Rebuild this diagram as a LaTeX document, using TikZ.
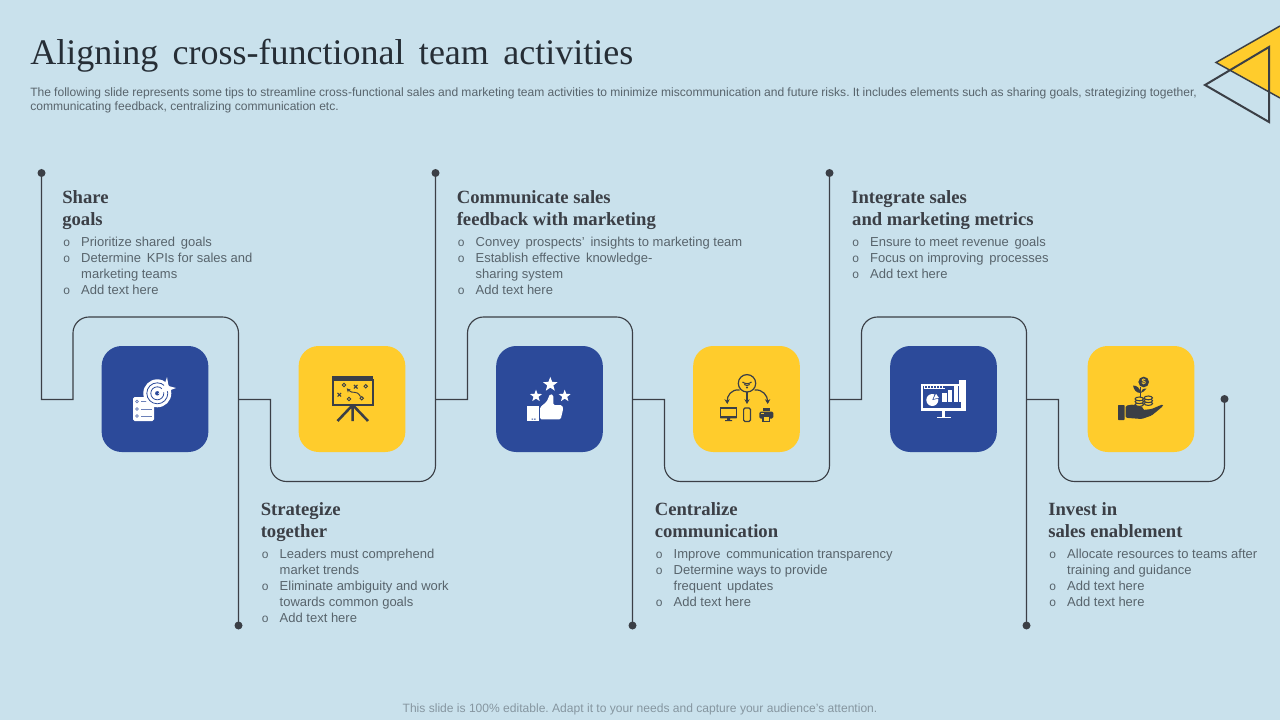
\documentclass[tikz,border=0pt]{standalone}
\usepackage{fontspec}
\setmainfont{Liberation Sans}
\newfontfamily\hfont{Liberation Serif}
\newfontfamily\mfont{Liberation Mono}
\usetikzlibrary{arrows.meta,shapes.geometric}
\definecolor{bg}{HTML}{C9E1EC}
\definecolor{tblue}{HTML}{2C4A9A}
\definecolor{tyel}{HTML}{FFCC2C}
\definecolor{ink}{HTML}{3B3F46}
\definecolor{titlec}{HTML}{262E36}
\definecolor{bodyc}{HTML}{58646C}
\definecolor{foot}{HTML}{8696A0}
\tikzset{
 x=0.75pt,y=-0.75pt,
 tile/.style={rounded corners=15pt,minimum width=80pt,minimum height=79.5pt,inner sep=0pt,draw=none},
 bluetile/.style={tile,fill=tblue},
 yeltile/.style={tile,fill=tyel},
 conn/.style={draw=ink,line width=0.85pt,rounded corners=12pt},
 dot/.style={circle,fill=ink,minimum size=6pt,inner sep=0pt},
 head/.style={anchor=north west,inner sep=0pt,align=left,text=ink,font=\hfont\bfseries\fontsize{14}{16.5}\selectfont},
 blist/.style={anchor=north west,inner sep=0pt,text=bodyc,font=\fontsize{9.75}{12}\selectfont},
 whitestar/.style={star,star points=5,star point ratio=2.4,fill=white,inner sep=0pt},
}
\newcommand{\blt}{\hspace{0.6pt}\mfont\fontsize{9}{9}\selectfont o}
\newenvironment{bl}{\begin{tabular}{@{}p{14.2pt}@{}l@{}}}{\end{tabular}}
\begin{document}
\frenchspacing
\begin{tikzpicture}
\useasboundingbox[fill=bg] (0,0) rectangle (1280,720);
% title
\node[anchor=west,inner sep=0pt,text=titlec,font=\hfont\fontsize{27}{30}\selectfont,name=title] at (30,56) {Aligning\hspace{0.15em} cross-functional\hspace{0.15em} team\hspace{0.15em} activities};
\node[anchor=north west,inner sep=0pt,align=left,text=bodyc,font=\fontsize{9.05}{10.6}\selectfont,name=sub] at (30,87.7) {\spaceskip=0.17em plus 0.2em minus 0.05em\makebox[875pt][s]{The following slide represents some tips to streamline cross-functional sales and marketing team activities to minimize miscommunication and future risks. It includes elements such as sharing goals, strategizing together,}\\communicating feedback, centralizing communication etc.};
% corner triangles
\fill[tyel] (1216,62.5) -- (1280,26) -- (1280,98) -- cycle;
\draw[ink,line width=1.1pt] (1280,26) -- (1216,62.5) -- (1280,98);
\draw[ink,line width=1.5pt,line join=miter] (1205,85) -- (1269,47) -- (1269,122) -- cycle;
% tiles
\node[bluetile] (t1) at (155,399) {};
\node[yeltile] (t2) at (352,399) {};
\node[bluetile] (t3) at (549.5,399) {};
\node[yeltile] (t4) at (746.5,399) {};
\node[bluetile] (t5) at (943.5,399) {};
\node[yeltile] (t6) at (1141,399) {};
% dots
\node[dot] (d1) at (41.5,173) {};
\node[dot] (d2) at (238.5,625.5) {};
\node[dot] (d3) at (435.5,173) {};
\node[dot] (d4) at (632.5,625.5) {};
\node[dot] (d5) at (829.5,173) {};
\node[dot] (d6) at (1026.5,625.5) {};
\node[dot] (d7) at (1224.5,399) {};
\coordinate (j1) at (238.5,399.5);
\coordinate (j2) at (435.5,399.5);
\coordinate (j3) at (632.5,399.5);
\coordinate (j4) at (829.5,399.5);
\coordinate (j5) at (1026.5,399.5);
% connectors
\draw[conn] (d1.center) [sharp corners] -- (41.5,399.5) -- (73,399.5) [rounded corners=12pt] -- (73,317) -- (238.5,317) -- (d2.center);
\draw[conn] (j1) [sharp corners] -- (270.5,399.5) [rounded corners=12pt] -- (270.5,481.5) -- (435.5,481.5) -- (d3.center);
\draw[conn] (j2) [sharp corners] -- (467.5,399.5) [rounded corners=12pt] -- (467.5,317) -- (632.5,317) -- (d4.center);
\draw[conn] (j3) [sharp corners] -- (664.5,399.5) [rounded corners=12pt] -- (664.5,481.5) -- (829.5,481.5) -- (d5.center);
\draw[conn] (j4) [sharp corners] -- (861.5,399.5) [rounded corners=12pt] -- (861.5,317) -- (1026.5,317) -- (d6.center);
\draw[conn] (j5) [sharp corners] -- (1058.5,399.5) [rounded corners=12pt] -- (1058.5,481.5) -- (1224.5,481.5) -- (d7.center);
% text
\node[head] (h1) at (62,190.5) {Share\\goals};
\node[blist] (b1) at (62,235.5) {\begin{bl}\blt & Prioritize shared\, goals\\ \blt & Determine\, KPIs for sales and\\ & marketing teams\\ \blt & Add text here\end{bl}};
\node[head] (h2) at (260.5,502.5) {Strategize\\together};
\node[blist] (b2) at (260.5,547.5) {\begin{bl}\blt & Leaders must comprehend\\ & market trends\\ \blt & Eliminate ambiguity and work\\ & towards common goals\\ \blt & Add text here\end{bl}};
\node[head] (h3) at (456.5,190.5) {Communicate sales\\feedback with marketing};
\node[blist] (b3) at (456.5,235.5) {\begin{bl}\blt & Convey\, prospects'\, insights to marketing team\\ \blt & Establish effective\, knowledge-\\ & sharing system\\ \blt & Add text here\end{bl}};
\node[head] (h4) at (654.5,502.5) {Centralize\\communication};
\node[blist] (b4) at (654.5,547.5) {\begin{bl}\blt & Improve\, communication transparency\\ \blt & Determine ways to provide\\ & frequent\, updates\\ \blt & Add text here\end{bl}};
\node[head] (h5) at (851,190.5) {Integrate sales\\\hspace{0.7pt}and marketing metrics};
\node[blist] (b5) at (851,235.5) {\begin{bl}\blt & Ensure to meet revenue\, goals\\ \blt & Focus on improving\, processes\\ \blt & Add text here\end{bl}};
\node[head] (h6) at (1048,502.5) {Invest in\\sales enablement};
\node[blist] (b6) at (1048,547.5) {\begin{bl}\blt & Allocate resources to teams after\\ & training and guidance\\ \blt & Add text here\\ \blt & Add text here\end{bl}};
\node[text=foot,inner sep=0pt,font=\fontsize{9.05}{11}\selectfont,name=footer] at (640,709) {This slide is 100\% editable. Adapt it to your needs and capture your audience's attention.};
% icon 1
\fill[white,rounded corners=1.2pt] (133,397) rectangle (154,421);
\foreach \y in {401.5,409,416}{\draw[tblue!70,line width=0.5pt] (137,\y) circle (1.4); \draw[tblue!70,line width=0.5pt] (141,\y) -- (152,\y);}
\fill[white] (157.3,393.3) circle (14);
\draw[tblue,line width=0.6pt] (157.3,393.3) circle (10.5);
\draw[tblue,line width=0.6pt] (157.3,393.3) circle (6.5);
\fill[tblue] (157.3,393.3) circle (2.2);
\fill[white] (167,377) -- (168.5,386) -- (176,388) -- (168,391) -- (158,394) -- (164,386) -- cycle;
% icon 2
\fill[ink] (332,376) rectangle (373,379);
\draw[ink,line width=1.5pt] (333,379.5) rectangle (372.5,404.5);
\draw[ink,line width=1.9pt] (352.7,405) -- (337.5,421) (352.7,405) -- (352.7,421) (352.7,405) -- (368,421);
\foreach \x/\y in {344/385,365.7/386.3,349/399,361.7/398.3}{\draw[ink,line width=0.7pt] (\x,\y) circle (1.7);}
\foreach \x/\y in {355.7/386.7,339.3/394.7}{\draw[ink,line width=0.8pt] (\x-1.8,\y-1.8) -- (\x+1.8,\y+1.8) (\x-1.8,\y+1.8) -- (\x+1.8,\y-1.8);}
\draw[ink,line width=0.7pt,-{Stealth[length=3pt,width=3pt]}] (360.5,396.5) .. controls (356,389) and (353,395) .. (346.7,388.3);
% icon 3
\node[whitestar,minimum size=11.5pt] (s1) at (550.3,384.5) {};
\node[whitestar,minimum size=9.5pt] (s2) at (536,396) {};
\node[whitestar,minimum size=9.5pt] (s3) at (564.7,396) {};
\fill[white] (526.7,405.7) rectangle (539.3,421);
\fill[tblue] (531.5,418.5) rectangle (533,419.5) (534,418.5) rectangle (535.5,419.5);
\fill[white,rounded corners=1pt] (540,407.3) -- (546.7,401.7) -- (550,394) -- (553.3,395) -- (553.3,405) -- (561.7,405) -- (563.3,408.3) -- (560.7,419.3) -- (540,419.3) -- cycle;
% icon 4
\draw[ink,line width=0.9pt] (747,383.3) circle (8.7);
\draw[ink,line width=0.8pt] (742.5,382) arc[start angle=130,end angle=50,radius=7];
\draw[ink,line width=0.8pt] (744.3,384.5) arc[start angle=130,end angle=50,radius=4.2];
\fill[ink] (747,387.5) circle (1.1);
\draw[ink,line width=0.9pt,-{Stealth[length=3.6pt,width=4pt]}] (739.5,390) .. controls (731,389) and (727,396) .. (727.3,404);
\draw[ink,line width=0.9pt,-{Stealth[length=3.6pt,width=4pt]}] (747,392) -- (747,404);
\draw[ink,line width=0.9pt,-{Stealth[length=3.6pt,width=4pt]}] (754.5,390) .. controls (763,389) and (767.5,396) .. (767.7,404);
\draw[ink,line width=1pt] (720.8,408) rectangle (736.4,417.5);
\fill[ink] (720.3,416) rectangle (736.7,418.3) (727,418.3) rectangle (730,420) (725,420) rectangle (732,421);
\draw[ink,line width=0.9pt,rounded corners=1pt] (743.6,408) rectangle (750.4,421.5);
\fill[ink,rounded corners=1pt] (759.3,411.7) rectangle (773.3,418.5);
\fill[ink] (762.5,407.7) rectangle (770,410.7);
\draw[ink,line width=0.9pt,fill=tyel] (763,416) rectangle (769.5,421.5);
\fill[tyel] (761,413) rectangle (764,414);
% icon 5
\fill[white] (921,384) rectangle (964,411);
\fill[white] (961.5,380) rectangle (966,411);
\fill[tblue] (923,386) rectangle (961,408);
\fill[white] (924,385) rectangle (945,389);
\foreach \x in {925,928,...,943}{\fill[tblue] (\x,386) rectangle (\x+1.5,388);}
\fill[white] (932.3,400) circle (6);
\fill[tblue] (932.3,400) -- (938.5,398.5) -- (935,393.5) -- cycle;
\fill[white] (933.5,399) -- (938.8,397.8) -- (936,393.8) -- cycle;
\foreach \x/\t in {944.3/393.3,950/390,955.7/385}{\fill[white] (\x-2.2,\t) rectangle (\x+2.2,401.7);}
\fill[white] (958.8,380) rectangle (962.5,401.7);
\fill[white] (942,411) rectangle (945,417);
\fill[white] (936.7,416.5) rectangle (950.7,418);
% icon 6
\fill[ink,rounded corners=0.5pt] (1118,405) rectangle (1124.5,420);
\fill[ink,rounded corners=1pt] (1125.7,405.7) -- (1133,404.5) -- (1143,407) -- (1143,410) -- (1151.7,409) -- (1162.7,404.3) -- (1163.2,406) -- (1151.7,415.5) -- (1141.7,419) -- (1125.7,417.8) -- cycle;
\foreach \x/\b in {1139.3/404.5,1148.3/403.5}{\foreach \d in {0,2.8,5.6}{\draw[ink,fill=tyel,line width=0.8pt] (\x,\b-\d) ellipse (4.2 and 1.9);}}
\draw[ink,line width=1pt] (1140.7,387) -- (1140.7,397);
\fill[ink] (1140.7,393) .. controls (1136,393) and (1134,390) .. (1133,385.5) .. controls (1137,385.5) and (1140,388) .. cycle;
\fill[ink] (1140.7,393) .. controls (1143,392) and (1145,391) .. (1146.5,388.5) .. controls (1143,388.5) and (1141,390) .. cycle;
\node[circle,fill=ink,minimum size=8pt,inner sep=0pt,text=tyel,font=\fontsize{5.8}{6}\selectfont\bfseries] (coin) at (1143.7,382) {\$};
\end{tikzpicture}
\end{document}
